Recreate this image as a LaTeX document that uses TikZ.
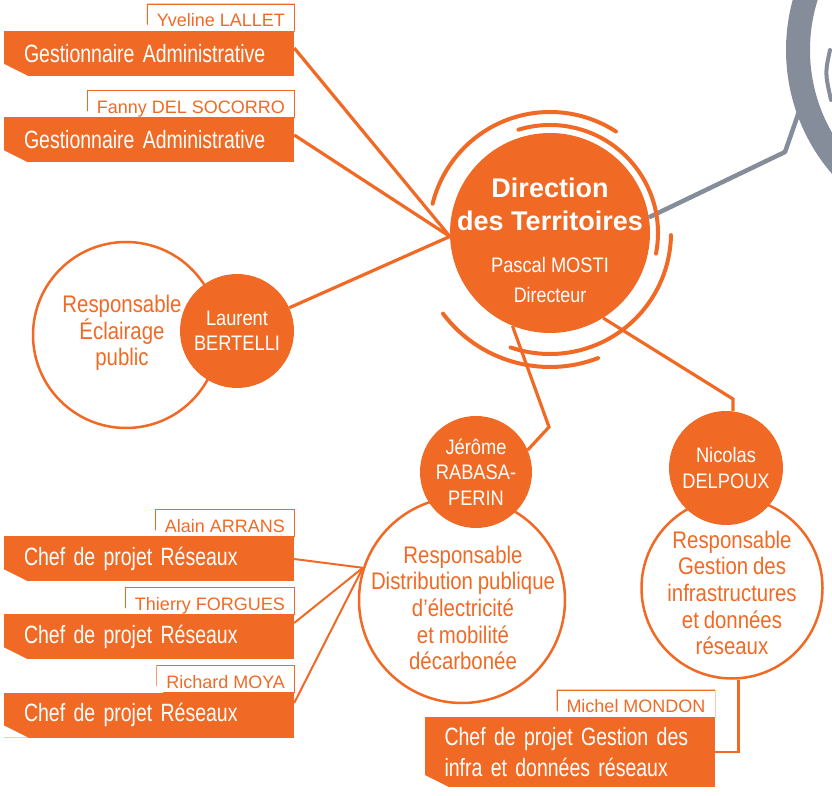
\documentclass[tikz,border=0pt]{standalone}
\usepackage{fontspec}
\setmainfont{Liberation Sans}
\newfontfamily\bannerfont[FakeStretch=0.78, WordSpace=0.6]{Liberation Sans}
\newfontfamily\rolefont[FakeStretch=0.85, WordSpace=0.85]{Liberation Sans}
\newfontfamily\namefont[FakeStretch=0.87]{Liberation Sans}
\definecolor{orgc}{RGB}{241,106,37}
\definecolor{greyc}{RGB}{133,141,155}
\tikzset{
  banner/.style={rectangle, fill=orgc, text=white, font=\bannerfont\fontsize{25}{31}\selectfont,
    minimum width=290pt, minimum height=45pt, text width=250pt, inner xsep=20pt, inner ysep=0pt, align=left,
    path picture={\fill[white] (path picture bounding box.south west) -- ++(24,0) -- ++(-24,12) -- cycle;}},
  tab/.style={rectangle, fill=white, text=orgc, font=\fontsize{18}{20}\selectfont,
    inner xsep=9pt, inner ysep=4pt, text height=18pt, text depth=0pt, anchor=south east,
    append after command={\pgfextra{\draw[orgc, line width=1.5pt, line join=miter]
      (\tikzlastnode.south east) -- (\tikzlastnode.north east) -- (\tikzlastnode.north west)
      -- ([yshift=7pt]\tikzlastnode.south west) -- ([xshift=7pt]\tikzlastnode.south west) -- cycle;}}},
  ring/.style={circle, draw=orgc, line width=2.5pt, fill=white, inner sep=0pt},
  disc/.style={circle, fill=orgc, text=white, inner sep=0pt, align=center, font=\namefont\fontsize{21}{25.5}\selectfont},
  roletext/.style={text=orgc, align=center, font=\rolefont\fontsize{24}{26.6}\selectfont},
  link/.style={draw=orgc, line width=3.2pt},
  thinlink/.style={draw=orgc, line width=2pt},
  halo/.style={draw=orgc, line width=4pt, line cap=round},
  greylink/.style={draw=greyc, line width=4.5pt, line join=round}
}
\begin{document}
\begin{tikzpicture}[x=1pt, y=1pt]
    \useasboundingbox (0,0) rectangle (832,795);
    \begin{scope}
        \clip (0,0) rectangle (832,795);
        \draw[greyc, line width=24pt] (976,745) circle[radius=178pt];
        \draw[greyc, line width=4pt, line cap=round] (830,745) .. controls (825,722) .. (831,695);
    \end{scope}

    \node[ring, minimum size=186pt] (lrole) at (126,460) {};
    \node[disc, minimum size=114pt] (laurent) at (237,464) {Laurent\\BERTELLI};
    \node[roletext] (ltxt) at (122,462) {Responsable\\Éclairage\\public};

    \node[ring, minimum size=206pt] (jrole) at (462,195) {};
    \node[disc, minimum size=112pt] (jerome) at (476,323) {Jérôme\\RABASA-\\PERIN};
    \node[roletext] (jtxt) at (463,187) {Responsable\\Distribution publique\\d’électricité\\et mobilité\\décarbonée};

    \node[ring, minimum size=181pt] (nrole) at (732,207) {};
    \node[disc, minimum size=114pt] (nicolas) at (726,327) {Nicolas\\DELPOUX};
    \node[roletext] (ntxt) at (732,202) {Responsable\\Gestion des\\infrastructures\\et données\\réseaux};

    \node[circle, fill=orgc, minimum size=200pt, inner sep=0pt] (dir) at (550,562) {};
    \node[text=white, align=center, font=\bfseries\fontsize{27}{33}\selectfont] (dtitle) at (550,591) {Direction\\des Territoires};
    \node[text=white, font=\namefont\fontsize{21}{25}\selectfont] (dname) at (550,530) {Pascal MOSTI};
    \node[text=white, font=\rolefont\fontsize{21}{25}\selectfont] (drole) at (550,500) {Directeur};

    \node[banner] (g1) at (149,741.5) {Gestionnaire Administrative};
    \node[banner] (g2) at (149,655) {Gestionnaire Administrative};
    \node[banner] (c1) at (149,236) {Chef de projet Réseaux};
    \node[banner] (c2) at (149,158) {Chef de projet Réseaux};
    \node[banner] (c3) at (149,80) {Chef de projet Réseaux};
    \node[banner, minimum height=70pt] (michel) at (569.5,43) {Chef de projet Gestion des\\infra et données réseaux};

    \node[tab] (t1) at (g1.north east) {Yveline LALLET};
    \node[tab] (t2) at (g2.north east) {Fanny DEL SOCORRO};
    \node[tab] (t3) at (c1.north east) {Alain ARRANS};
    \node[tab] (t4) at (c2.north east) {Thierry FORGUES};
    \node[tab] (t5) at (c3.north east) {Richard MOYA};
    \node[tab] (t6) at (michel.north east) {Michel MONDON};

    \coordinate (hub) at (dir.182);
    \draw[link] ([yshift=5.5pt]g1.east) -- (hub);
    \draw[link] ([yshift=5pt]g2.east) -- (hub);
    \draw[link] (laurent) -- (hub);

    \coordinate (jbend) at (549,368);
    \draw[link] (dir.-112) -- (jbend) -- (jerome.23);
    \coordinate (nbend) at (733,396);
    \draw[link] (dir.-58) -- (nbend) -- (nbend |- nicolas.north);

    \coordinate (jhub) at (jrole.162);
    \draw[thinlink] (c1.east) -- (jhub);
    \draw[thinlink] ([yshift=14pt]c2.east) -- (jhub);
    \draw[thinlink] ([yshift=12pt]c3.east) -- (jhub);
    \draw[link, line width=2.5pt] (nrole.-86) |- (michel.east);

    \coordinate (gbend) at (785,643);
    \coordinate (gend) at (802,692);
    \draw[greylink] (dir.9) -- (gbend) -- (gend);

    \draw[halo] ([shift={(-11:108pt)}]dir.center) arc[start angle=-11, end angle=107, radius=108pt];
    \draw[halo] ([shift={(57:121pt)}]dir.center) arc[start angle=57, end angle=166, radius=121pt];
    \draw[halo] ([shift={(-109:121pt)}]dir.center) arc[start angle=-109, end angle=-1, radius=121pt];
    \draw[halo] ([shift={(-143:134pt)}]dir.center) arc[start angle=-143, end angle=-69, radius=134pt];
\end{tikzpicture}
\end{document}
